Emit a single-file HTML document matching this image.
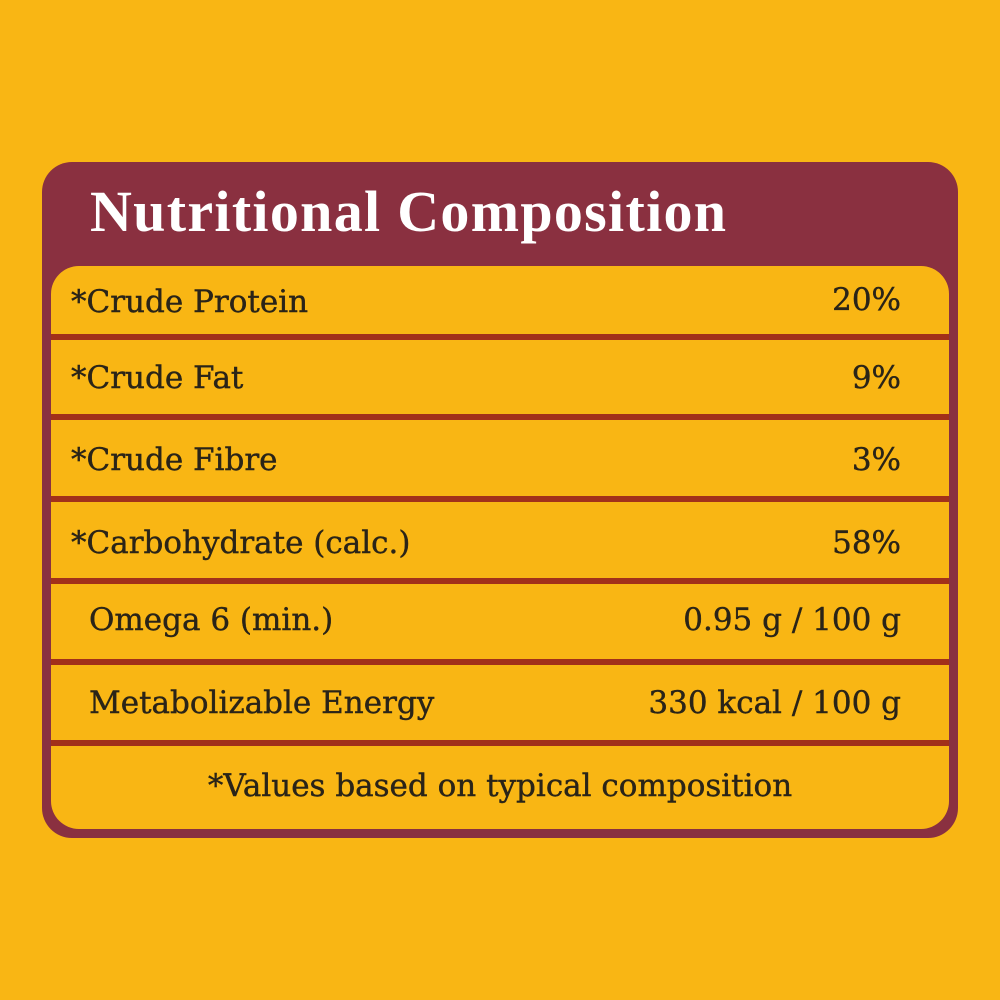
<!DOCTYPE html>
<html><head><style>
body{margin:0;width:1000px;height:1000px;background:#f9b614;position:relative;overflow:hidden;font-family:"Liberation Serif",serif;}
.outer{position:absolute;left:42px;top:162px;width:916px;height:676px;background:#8a3040;border-radius:30px;}
.title{position:absolute;left:90px;top:178px;font-size:58px;color:#fff;font-weight:bold;letter-spacing:1.3px;white-space:nowrap}
.inner{position:absolute;left:51px;top:266px;width:898px;height:563px;background:#f9b614;border-radius:28px;overflow:hidden}
.div{position:absolute;left:0;width:898px;height:6px;background:#a2301a}
.t{position:absolute;font-family:"DejaVu Serif",serif;font-size:31px;color:#2a2418;white-space:nowrap;line-height:1;-webkit-text-stroke:0.4px #2a2418}
.r{right:48px;text-align:right}
</style></head><body>
<div class="outer"></div>
<div class="title">Nutritional Composition</div>
<div class="inner">
<div class="div" style="top:68px"></div>
<div class="div" style="top:148px"></div>
<div class="div" style="top:230px"></div>
<div class="div" style="top:312px"></div>
<div class="div" style="top:393px"></div>
<div class="div" style="top:474px"></div>
<div class="t" style="left:20px;top:21px">*Crude Protein</div><div class="t r" style="top:19px">20%</div>
<div class="t" style="left:20px;top:97px">*Crude Fat</div><div class="t r" style="top:97px">9%</div>
<div class="t" style="left:20px;top:179px">*Crude Fibre</div><div class="t r" style="top:179px">3%</div>
<div class="t" style="left:20px;top:262px">*Carbohydrate (calc.)</div><div class="t r" style="top:262px">58%</div>
<div class="t" style="left:38px;top:339px">Omega 6 (min.)</div><div class="t r" style="top:339px">0.95 g / 100 g</div>
<div class="t" style="left:38px;top:422px">Metabolizable Energy</div><div class="t r" style="top:422px">330 kcal / 100 g</div>
<div class="t" style="left:0;width:898px;text-align:center;top:505px">*Values based on typical composition</div>
</div>
</body></html>
